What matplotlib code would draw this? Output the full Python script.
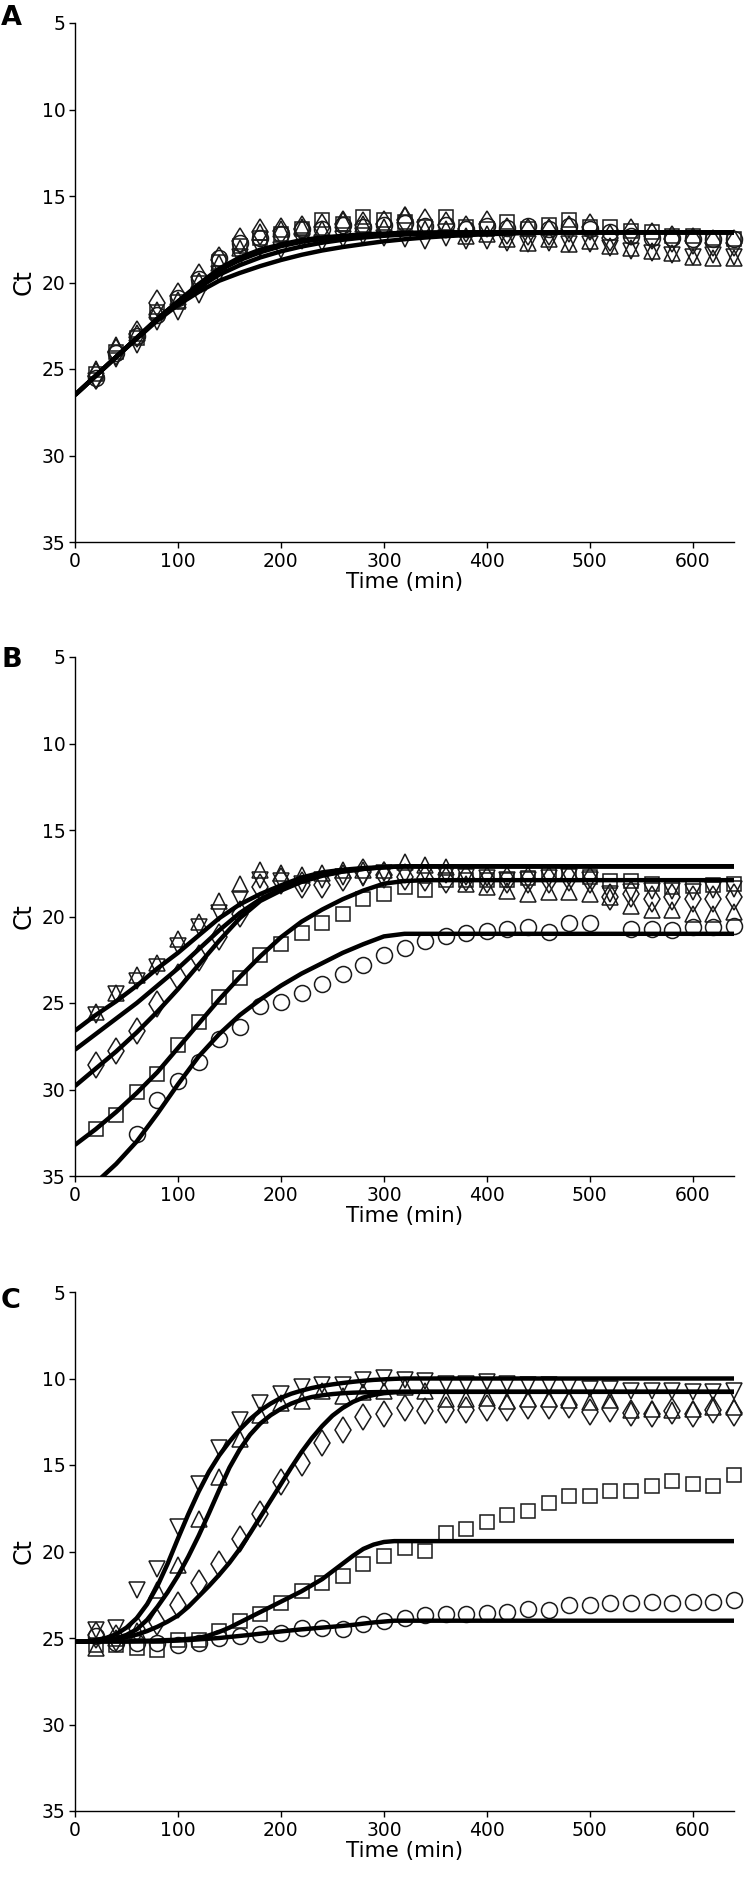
import numpy as np
import matplotlib
matplotlib.use("Agg")
import matplotlib.pyplot as plt

plt.rcParams['font.family'] = ['DejaVu Sans']

# ---------------- data ----------------
time = [20, 40, 60, 80, 100, 120, 140, 160, 180, 200, 220, 240, 260, 280, 300, 320,
        340, 360, 380, 400, 420, 440, 460, 480, 500, 520, 540, 560, 580, 600, 620, 640]
fit_x = [0, 20, 40, 60, 80, 100, 120, 140, 160, 180, 200, 220, 240, 260, 280, 300, 320,
         340, 360, 380, 400, 420, 440, 460, 480, 500, 520, 540, 560, 580, 600, 620, 640]
fit_x_c = [0, 10, 20, 30, 40, 50, 60, 70, 80, 90, 100, 110, 120, 130, 140, 150, 160, 170,
           180, 190, 200, 210, 220, 230, 240, 250, 260, 270, 280, 290, 300, 310, 320, 640]
nan = float('nan')

# Panel A
A_circle = [25.5, 24.1, 23.1, 21.9, 20.9, 19.8, 18.6, 17.7, 17.4, 17.2, 16.9, 16.9, 16.7, 16.8, 16.7, 16.55,
            16.75, 16.65, 16.9, 16.75, 16.85, 16.75, 16.9, 16.75, 16.9, 17.1, 17.3, 17.4, 17.4, 17.5, 17.5, 17.5]
A_square = [25.3, 24.0, 23.2, 21.7, 21.1, 20.0, 18.8, 17.9, 17.4, 17.2, 16.9, 16.4, 16.6, 16.2, 16.4, 16.5,
            16.8, 16.2, 16.8, 16.9, 16.5, 16.9, 16.7, 16.4, 16.8, 16.8, 17.0, 17.1, 17.3, 17.3, 17.4, 17.5]
A_diamond = [25.4, 24.0, 23.0, 21.2, 20.8, 19.7, 18.7, 17.6, 17.1, 17.0, 16.9, 16.8, 16.6, 16.7, 16.6, 16.4,
             16.5, 16.7, 16.9, 16.6, 17.0, 17.1, 17.1, 16.9, 16.8, 17.4, 17.1, 17.3, 17.5, 17.6, 17.7, 17.7]
A_up = [25.0, 23.6, 22.9, 21.6, 21.0, 19.9, 18.9, 18.0, 17.1, 16.9, 16.8, 16.9, 16.4, 16.6, 16.8, 16.1,
        16.9, 16.9, 17.3, 17.2, 17.5, 17.7, 17.5, 17.8, 17.6, 17.9, 18.0, 18.2, 18.3, 18.5, 18.6, 18.6]
A_down = [25.7, 24.4, 23.6, 22.3, 21.7, 20.7, 19.5, 18.5, 18.0, 18.1, 17.6, 17.7, 17.5, 17.3, 17.4, 17.5,
          17.6, 17.4, 17.6, 17.6, 17.7, 17.8, 17.7, 17.8, 17.8, 18.0, 18.2, 18.3, 18.4, 18.5, 18.4, 18.5]
A_fit1 = [26.5, 25.4, 24.3, 23.2, 22.1, 21.1, 20.1, 19.2, 18.55, 18.1, 17.8, 17.55, 17.4, 17.3, 17.22, 17.17, 17.13,
          17.11, 17.1, 17.1, 17.1, 17.1, 17.1, 17.1, 17.1, 17.1, 17.1, 17.1, 17.1, 17.1, 17.1, 17.1, 17.1]
A_fit2 = [26.5, 25.4, 24.3, 23.2, 22.1, 21.1, 20.15, 19.3, 18.7, 18.25, 17.9, 17.65, 17.48, 17.36, 17.28, 17.22, 17.17,
          17.14, 17.12, 17.11, 17.1, 17.1, 17.1, 17.1, 17.1, 17.1, 17.1, 17.1, 17.1, 17.1, 17.1, 17.1, 17.1]
A_fit3 = [26.5, 25.4, 24.3, 23.2, 22.1, 21.15, 20.3, 19.55, 19.0, 18.55, 18.2, 17.92, 17.7, 17.53, 17.4, 17.3, 17.23,
          17.18, 17.15, 17.12, 17.11, 17.1, 17.1, 17.1, 17.1, 17.1, 17.1, 17.1, 17.1, 17.1, 17.1, 17.1, 17.1]
A_fit4 = [26.5, 25.4, 24.3, 23.25, 22.2, 21.3, 20.55, 19.9, 19.45, 19.05, 18.7, 18.4, 18.15, 17.95, 17.78, 17.62, 17.5,
          17.4, 17.32, 17.26, 17.21, 17.17, 17.14, 17.12, 17.1, 17.1, 17.1, 17.1, 17.1, 17.1, 17.1, 17.1, 17.1]

# Panel B
B_circle = [nan, nan, 32.6, 30.6, 29.5, 28.4, 27.1, 26.4, 25.2, 24.95, 24.4, 23.9, 23.35, 22.8, 22.25, 21.8,
            21.4, 21.1, 20.95, 20.85, 20.75, 20.6, 20.9, 20.35, 20.4, nan, 20.75, 20.7, 20.8, 20.6, 20.6, 20.55]
B_square = [32.3, 31.5, 30.15, 29.1, 27.4, 26.1, 24.65, 23.55, 22.2, 21.6, 20.95, 20.4, 19.85, 19.0, 18.7, 18.3,
            18.45, 17.9, 17.9, 17.9, 17.9, 17.8, 17.5, 17.45, 17.7, 17.95, 17.95, 18.1, 18.3, 18.25, 18.2, 18.15]
B_diamond = [28.6, 27.8, 26.6, 25.05, 23.5, 22.4, 21.2, 19.85, 18.3, 17.95, 18.2, 18.2, 17.8, 17.4, 17.6, 17.7,
             17.8, 17.9, 17.8, 17.9, 17.9, 17.9, 17.9, 17.8, 17.9, 18.9, 18.7, 19.0, 18.9, 19.0, 19.0, 18.9]
B_up = [25.5, 24.4, 23.4, 22.7, 21.3, 20.3, 19.1, 18.15, 17.3, 17.5, 17.6, 17.5, 17.3, 17.3, 17.3, 16.85,
        17.05, 17.15, 18.1, 18.3, 18.5, 18.7, 18.6, 18.6, 18.7, 18.9, 19.4, 19.6, 19.65, 19.85, 19.85, 19.75]
B_down = [25.7, 24.5, 23.7, 22.9, 21.7, 20.6, 19.8, 19.0, 17.9, 17.95, 18.15, 17.9, 17.7, 17.8, 17.5, 17.6,
          17.5, 17.6, 17.7, 17.8, 17.9, 17.9, 17.75, 17.7, 17.9, 18.7, 18.6, 18.5, 18.55, 18.6, 18.45, 18.4]
B_fit1 = [26.6, 25.7, 24.9, 24.0, 23.0, 22.1, 21.1, 20.1, 19.3, 18.7, 18.2, 17.75, 17.45, 17.3, 17.2, 17.15, 17.1,
          17.1, 17.1, 17.1, 17.1, 17.1, 17.1, 17.1, 17.1, 17.1, 17.1, 17.1, 17.1, 17.1, 17.1, 17.1, 17.1]
B_fit2 = [27.7, 26.8, 25.9, 25.0, 24.0, 23.0, 21.9, 20.8, 19.8, 19.0, 18.4, 17.95, 17.6, 17.4, 17.25, 17.15, 17.1,
          17.1, 17.1, 17.1, 17.1, 17.1, 17.1, 17.1, 17.1, 17.1, 17.1, 17.1, 17.1, 17.1, 17.1, 17.1, 17.1]
B_fit3 = [29.8, 28.8, 27.8, 26.7, 25.5, 24.2, 22.8, 21.4, 20.1, 19.1, 18.5, 18.0, 17.65, 17.4, 17.25, 17.15, 17.1,
          17.1, 17.1, 17.1, 17.1, 17.1, 17.1, 17.1, 17.1, 17.1, 17.1, 17.1, 17.1, 17.1, 17.1, 17.1, 17.1]
B_fit4 = [33.2, 32.3, 31.3, 30.2, 29.0, 27.6, 26.2, 24.8, 23.5, 22.3, 21.2, 20.3, 19.6, 19.0, 18.5, 18.1, 17.95,
          17.9, 17.9, 17.9, 17.9, 17.9, 17.9, 17.9, 17.9, 17.9, 17.9, 17.9, 17.9, 17.9, 17.9, 17.9, 17.9]
B_fit5 = [36.6, 35.4, 34.3, 33.0, 31.4, 29.7, 28.1, 26.8, 25.7, 24.8, 24.0, 23.3, 22.7, 22.1, 21.6, 21.15, 21.0,
          21.0, 21.0, 21.0, 21.0, 21.0, 21.0, 21.0, 21.0, 21.0, 21.0, 21.0, 21.0, 21.0, 21.0, 21.0, 21.0]

# Panel C
C_circle = [24.9, 25.3, 25.3, 25.3, 25.4, 25.3, 25.0, 24.9, 24.75, 24.7, 24.4, 24.4, 24.5, 24.2, 24.0, 23.85,
            23.65, 23.6, 23.6, 23.55, 23.5, 23.3, 23.4, 23.1, 23.1, 22.95, 23.0, 22.9, 23.0, 22.9, 22.9, 22.8]
C_square = [25.4, 25.4, 25.6, 25.7, 25.1, 25.1, 24.6, 24.0, 23.6, 23.0, 22.3, 21.8, 21.4, 20.7, 20.25, 19.8,
            19.95, 18.95, 18.7, 18.3, 17.9, 17.65, 17.2, 16.8, 16.8, 16.5, 16.5, 16.2, 15.9, 16.1, 16.2, 15.55]
C_diamond = [24.85, 25.0, 24.5, 24.1, 23.1, 21.8, 20.7, 19.25, 17.85, 16.0, 14.9, 13.7, 13.0, 12.2, 12.05, 11.7,
             11.85, 11.8, 11.8, 11.7, 11.7, 11.6, 11.6, 11.55, 11.95, 11.75, 12.0, 12.05, 11.9, 12.05, 11.8, 12.0]
C_up = [25.6, 25.0, 24.6, 22.2, 20.8, 18.1, 15.7, 13.5, 12.1, 11.4, 11.3, 10.7, 11.0, 10.8, 10.7, 10.5,
        10.7, 11.2, 11.2, 11.1, 11.3, 11.2, 11.2, 11.25, 11.35, 11.25, 11.8, 11.75, 11.8, 11.75, 11.65, 11.65]
C_down = [24.55, 24.4, 22.2, 21.0, 18.6, 16.1, 14.0, 12.4, 11.4, 10.9, 10.5, 10.4, 10.35, 10.1, 9.95, 10.1,
          10.13, 10.3, 10.3, 10.2, 10.3, 10.35, 10.4, 10.45, 10.6, 10.6, 10.7, 10.7, 10.75, 10.8, 10.8, 10.75]
C_fit_down = [25.2, 25.2, 25.12, 25.0, 24.78, 24.4, 23.85, 23.05, 22.0, 20.7, 19.25, 17.85, 16.55, 15.4, 14.45, 13.65,
              12.95, 12.35, 11.85, 11.45, 11.12, 10.88, 10.7, 10.55, 10.43, 10.34, 10.26, 10.19, 10.13, 10.08,
              10.05, 10.02, 10.0, 10.0]
C_fit_up = [25.2, 25.2, 25.18, 25.13, 25.03, 24.82, 24.5, 23.95, 23.2, 22.35, 21.4, 20.3, 19.1, 17.8, 16.45, 15.15,
            14.1, 13.25, 12.6, 12.12, 11.75, 11.45, 11.23, 11.07, 10.97, 10.9, 10.85, 10.82, 10.8, 10.79, 10.78,
            10.77, 10.77, 10.77]
C_fit_diamond = [25.2, 25.2, 25.16, 25.12, 25.05, 24.95, 24.8, 24.6, 24.35, 24.05, 23.7, 23.2, 22.6, 22.0, 21.35,
                 20.65, 19.85, 18.95, 18.0, 17.05, 16.1, 15.15, 14.25, 13.45, 12.75, 12.15, 11.7, 11.35, 11.1,
                 10.95, 10.85, 10.8, 10.77, 10.77]
C_fit_square = [25.2, 25.2, 25.2, 25.2, 25.2, 25.2, 25.18, 25.16, 25.14, 25.12, 25.1, 25.05, 25.0, 24.85, 24.65, 24.4,
                24.1, 23.8, 23.5, 23.2, 22.9, 22.6, 22.3, 21.95, 21.6, 21.15, 20.7, 20.25, 19.85, 19.6, 19.45,
                19.4, 19.4, 19.4]
C_fit_circle = [25.2, 25.2, 25.2, 25.2, 25.2, 25.2, 25.2, 25.2, 25.18, 25.17, 25.15, 25.12, 25.08, 25.04, 25.0, 24.94,
                24.88, 24.82, 24.75, 24.69, 24.62, 24.56, 24.5, 24.45, 24.4, 24.35, 24.3, 24.24, 24.17, 24.1, 24.05,
                24.0, 24.0, 24.0]

x_ticks = [0, 100, 200, 300, 400, 500, 600]
y_ticks = [5, 10, 15, 20, 25, 30, 35]
panel_labels = ['A', 'B', 'C']

# ---------------- figure ----------------
W, H = 747, 1880
fig = plt.figure(figsize=(W / 100, H / 100), dpi=100)

left, right = 75 / W, 734 / W
tops = [23, 657, 1292]
ax_h = 519
label_y = [18, 660, 1301]

panels = [
    dict(series=[A_circle, A_square, A_diamond, A_up, A_down],
         fx=fit_x, fits=[A_fit4, A_fit3, A_fit2, A_fit1]),
    dict(series=[B_circle, B_square, B_diamond, B_up, B_down],
         fx=fit_x, fits=[B_fit1, B_fit2, B_fit3, B_fit4, B_fit5]),
    dict(series=[C_circle, C_square, C_diamond, C_up, C_down],
         fx=fit_x_c, fits=[C_fit_down, C_fit_up, C_fit_diamond, C_fit_square, C_fit_circle]),
]
markers = [('o', 11.5), ('s', 10), ('d', 13), ('^', 12), ('v', 12)]
edge = '#1a1a1a'

for i, p in enumerate(panels):
    bottom = 1 - (tops[i] + ax_h) / H
    ax = fig.add_axes([left, bottom, right - left, ax_h / H])
    for ys, (m, ms) in zip(p['series'], markers):
        ax.plot(time, ys, linestyle='none', marker=m, markersize=ms,
                markerfacecolor='none', markeredgecolor=edge, markeredgewidth=1.1,
                zorder=2, clip_on=False)
    for f in p['fits']:
        ax.plot(p['fx'], f, color='black', lw=3.2, zorder=3, solid_capstyle='butt')
    ax.set_xlim(0, 640)
    ax.set_ylim(35, 5)
    ax.set_xticks(x_ticks)
    ax.set_yticks(y_ticks)
    for s in ['top', 'right']:
        ax.spines[s].set_visible(False)
    for s in ['left', 'bottom']:
        ax.spines[s].set_linewidth(1.0)
    ax.tick_params(direction='out', length=4, width=1, labelsize=13.5, pad=3)
    ax.set_xlabel('Time (min)', fontsize=15.5, labelpad=1)
    ax.set_ylabel('Ct', fontsize=17, labelpad=4)
    fig.text(1 / W, 1 - label_y[i] / H, panel_labels[i], fontsize=19.5, fontweight='bold',
             ha='left', va='center')

fig.savefig('out.png', dpi=100)
